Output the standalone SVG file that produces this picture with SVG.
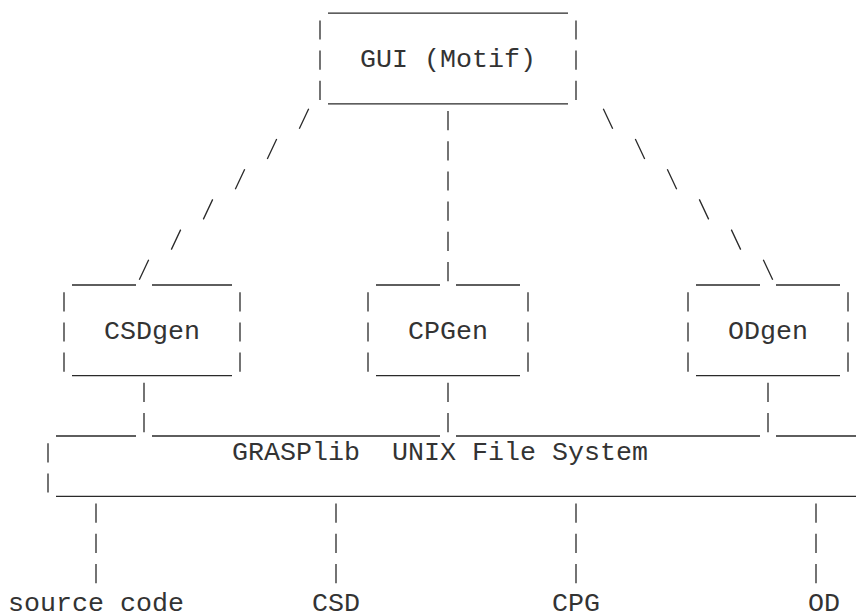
<svg xmlns="http://www.w3.org/2000/svg" width="857" height="613" viewBox="0 0 857 613">
<style>
  .bg { fill: #ffffff; }
  .ln { fill: none; stroke: #2a2a2a; stroke-width: 1.3; stroke-linecap: butt; }
  .t { font-family: "Courier New", "Liberation Mono", monospace; font-size: 26.67px; fill: #333333; white-space: pre; }
</style>
<rect class="bg" x="0" y="0" width="857" height="613"/>

<g id="gui">
  <path class="ln" d="M328 13.2 H568 M328 103.8 H568
    M320 20.4 V39.6 M320 50.6 V69.8 M320 80.8 V100
    M576 20.4 V39.6 M576 50.6 V69.8 M576 80.8 V100"/>
  <text class="t" x="360" y="67.4">GUI (Motif)</text>
</g>

<g id="csdgen">
  <path class="ln" d="M72 285 H136 M152 285 H232 M72 375.6 H232
    M64 292.2 V311.4 M64 322.4 V341.6 M64 352.6 V371.8
    M240 292.2 V311.4 M240 322.4 V341.6 M240 352.6 V371.8"/>
  <text class="t" x="104" y="339.2">CSDgen</text>
</g>

<g id="cpgen">
  <path class="ln" d="M376 285 H440 M456 285 H520 M376 375.6 H520
    M368 292.2 V311.4 M368 322.4 V341.6 M368 352.6 V371.8
    M528 292.2 V311.4 M528 322.4 V341.6 M528 352.6 V371.8"/>
  <text class="t" x="408" y="339.2">CPGen</text>
</g>

<g id="odgen">
  <path class="ln" d="M696 285 H760 M776 285 H840 M696 375.6 H840
    M688 292.2 V311.4 M688 322.4 V341.6 M688 352.6 V371.8
    M848 292.2 V311.4 M848 322.4 V341.6 M848 352.6 V371.8"/>
  <text class="t" x="728" y="339.2">ODgen</text>
</g>

<g id="grasplib">
  <path class="ln" d="M56 436 H136 M152 436 H440 M456 436 H760 M776 436 H856
    M56 496.4 H856
    M48 443.2 V462.4 M48 473.4 V492.6"/>
  <text class="t" x="232" y="460" xml:space="preserve">GRASPlib  UNIX File System</text>
</g>

<g id="source-code"><text class="t" x="8" y="610.5">source code</text></g>
<g id="csd"><text class="t" x="312" y="610.5">CSD</text></g>
<g id="cpg"><text class="t" x="552" y="610.5">CPG</text></g>
<g id="od"><text class="t" x="808" y="610.5">OD</text></g>

<g id="connectors">
  <path id="gui-csdgen" class="ln" d="M299.3 128.8 L308.7 108.8 M267.3 159 L276.7 139 M235.3 189.2 L244.7 169.2
    M203.3 219.4 L212.7 199.4 M171.3 249.6 L180.7 229.6 M139.3 279.8 L148.7 259.8"/>
  <path id="gui-cpgen" class="ln" d="M448 111 V130.2 M448 141.2 V160.4 M448 171.4 V190.6
    M448 201.6 V220.8 M448 231.8 V251 M448 262 V281.2"/>
  <path id="gui-odgen" class="ln" d="M603.3 108.8 L612.7 128.8 M635.3 139 L644.7 159 M667.3 169.2 L676.7 189.2
    M699.3 199.4 L708.7 219.4 M731.3 229.6 L740.7 249.6 M763.3 259.8 L772.7 279.8"/>
  <path id="csdgen-grasplib" class="ln" d="M144 382.8 V402 M144 413 V432.2"/>
  <path id="cpgen-grasplib" class="ln" d="M448 382.8 V402 M448 413 V432.2"/>
  <path id="odgen-grasplib" class="ln" d="M768 382.8 V402 M768 413 V432.2"/>
  <path id="grasplib-source" class="ln" d="M96 503.6 V522.8 M96 533.8 V553 M96 564 V583.2"/>
  <path id="grasplib-csd" class="ln" d="M336 503.6 V522.8 M336 533.8 V553 M336 564 V583.2"/>
  <path id="grasplib-cpg" class="ln" d="M576 503.6 V522.8 M576 533.8 V553 M576 564 V583.2"/>
  <path id="grasplib-od" class="ln" d="M816 503.6 V522.8 M816 533.8 V553 M816 564 V583.2"/>
</g>
</svg>
